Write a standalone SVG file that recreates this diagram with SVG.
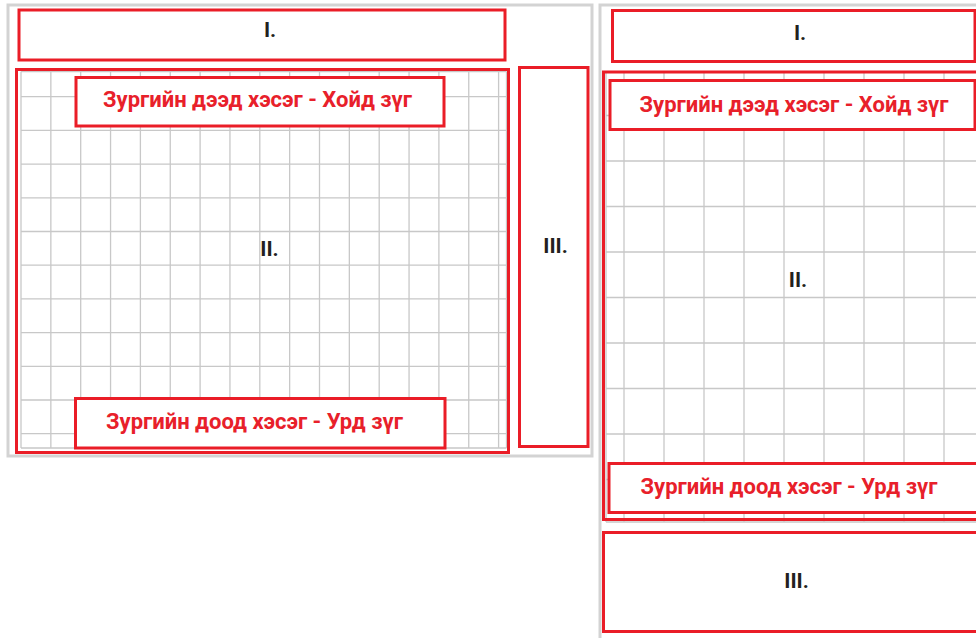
<svg xmlns="http://www.w3.org/2000/svg" width="976" height="638" viewBox="0 0 976 638">
  <style>
    .panel{fill:#ffffff;stroke:#d3d3d3;stroke-width:3}
    .grid{fill:none;stroke:#c8c8c8;stroke-width:1.3}
    .box{fill:#ffffff;stroke:#ea1d27;stroke-width:3}
    .frame{fill:none;stroke:#ea1d27;stroke-width:3}
    .num{font-family:Roboto,"Liberation Sans",sans-serif;font-weight:bold;font-size:21px;fill:#231f20;text-anchor:middle}
    .lbl{font-family:Roboto,"Liberation Sans",sans-serif;font-weight:bold;font-size:22px;fill:#e8202a;text-anchor:middle}
  </style>
  <rect x="0" y="0" width="976" height="638" fill="#ffffff"/>

  <!-- Left layout -->
  <g id="left-panel">
    <rect class="panel" x="8" y="5" width="584" height="451"/>
    <path class="grid" d="M21 71.5V448M50.85 71.5V448M80.7 71.5V448M110.55 71.5V448M140.4 71.5V448M170.25 71.5V448M200.1 71.5V448M229.95 71.5V448M259.8 71.5V448M289.65 71.5V448M319.5 71.5V448M349.35 71.5V448M379.2 71.5V448M409.05 71.5V448M438.9 71.5V448M468.75 71.5V448M498.6 71.5V448M506.5 71.5V448
      M21 71.5H506.5M21 96.7H506.5M21 130.4H506.5M21 164.1H506.5M21 197.8H506.5M21 231.5H506.5M21 265.2H506.5M21 298.9H506.5M21 332.6H506.5M21 366.3H506.5M21 400H506.5M21 433.7H506.5M21 448H506.5"/>
  </g>
  <g id="left-II">
    <rect class="frame" x="16.5" y="69.5" width="492" height="383"/>
    <text class="num" x="269.5" y="256">II.</text>
  </g>
  <g id="left-I">
    <rect class="box" x="19" y="10" width="486" height="50"/>
    <text class="num" x="270" y="36.5">I.</text>
  </g>
  <g id="left-top-label">
    <rect class="box" x="76" y="77.5" width="368" height="48.5"/>
    <text class="lbl" x="257.5" y="106.5">Зургийн дээд хэсэг - Хойд зүг</text>
  </g>
  <g id="left-bottom-label">
    <rect class="box" x="75.5" y="398.5" width="369.5" height="49.5"/>
    <text class="lbl" x="254.5" y="429">Зургийн доод хэсэг - Урд зүг</text>
  </g>
  <g id="left-III">
    <rect class="box" x="519.5" y="67.5" width="68.5" height="379"/>
    <text class="num" x="555.5" y="253">III.</text>
  </g>

  <!-- Right layout -->
  <g id="right-panel">
    <rect class="panel" x="600" y="5" width="400" height="650"/>
    <path class="grid" d="M606 72V522M624 72V522M664 72V522M704 72V522M744 72V522M784 72V522M824 72V522M864 72V522M904 72V522M944 72V522
      M606 72H976M606 115.5H976M606 161H976M606 206.5H976M606 252H976M606 297.5H976M606 343H976M606 388.5H976M606 434H976M606 479.5H976M606 522H976"/>
  </g>
  <g id="right-II">
    <rect class="frame" x="603.5" y="72" width="400" height="447.5"/>
    <text class="num" x="798" y="287">II.</text>
  </g>
  <g id="right-I">
    <rect class="box" x="612.5" y="10.5" width="362.5" height="51"/>
    <text class="num" x="800" y="39.5">I.</text>
  </g>
  <g id="right-top-label">
    <rect class="box" x="610" y="80.5" width="365" height="49"/>
    <text class="lbl" x="794" y="112">Зургийн дээд хэсэг - Хойд зүг</text>
  </g>
  <g id="right-bottom-label">
    <rect class="box" x="609" y="463.5" width="400" height="49"/>
    <text class="lbl" x="789" y="494">Зургийн доод хэсэг - Урд зүг</text>
  </g>
  <g id="right-III">
    <rect class="box" x="603.5" y="532.5" width="400" height="99"/>
    <text class="num" x="796.5" y="588">III.</text>
  </g>
  <g id="connectors"/>
</svg>
